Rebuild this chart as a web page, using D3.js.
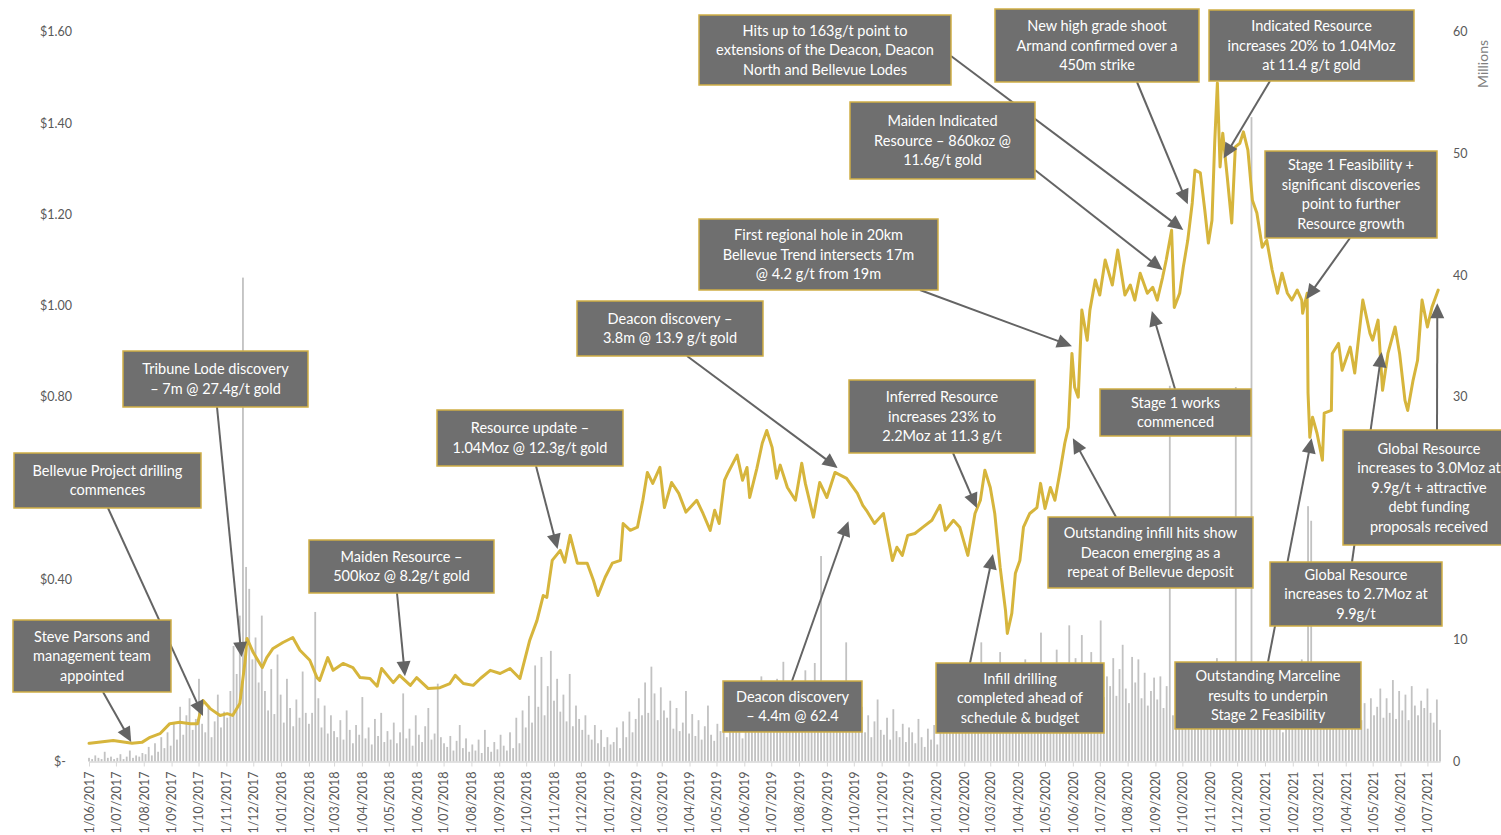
<!DOCTYPE html>
<html><head><meta charset="utf-8">
<script src="https://cdn.jsdelivr.net/npm/d3@7"></script>
<style>body{margin:0;background:#fff}svg{display:block;font-family:Lato,"Open Sans",sans-serif}</style>
</head><body><svg id="c" width="1501" height="835"></svg>
<script>
// ---------------- DATA ----------------
const startDate = "2017-06-01";
const endDate = "2021-07-15";
// share price (A$): day offset from startDate, and price
const priceDays = [
0,1,27,48,59,68,79,90,101,113,121,127,135,146,154,160,168,174,176,183,193,198,205,216,227,235,246,254,257,266,
272,283,294,302,313,321,326,339,346,358,365,378,391,402,408,417,428,436,447,458,469,480,486,491,499,506,510,516,525,530,
536,544,555,562,567,575,583,592,595,603,611,617,622,628,636,641,649,657,665,677,684,692,697,702,708,712,722,728,733,736,
744,750,755,761,766,770,778,787,794,798,807,814,822,831,844,856,862,866,875,885,895,900,906,912,920,929,939,948,954,963,
970,979,987,993,998,1004,1009,1015,1021,1023,1028,1032,1037,1041,1048,1056,1060,1065,1071,1076,1082,1087,1091,1095,1098,1102,1106,1112,1115,1121,
1126,1132,1140,1146,1154,1160,1165,1171,1179,1185,1190,1196,1200,1206,1209,1215,1219,1224,1229,1232,1238,1243,1247,1251,1254,1257,1260,1263,1268,1273,
1277,1282,1286,1291,1296,1301,1307,1312,1318,1324,1329,1335,1340,1346,1351,1352,1357,1358,1360,1363,1368,1374,1376,1384,1385,1392,1396,1405,1410,1419,
1427,1430,1436,1441,1447,1455,1460,1466,1469,1475,1480,1485,1491,1496,1503
];
const prices = [
0.040,0.040,0.046,0.040,0.042,0.053,0.061,0.083,0.086,0.083,0.083,0.134,0.116,0.101,0.105,0.101,0.127,0.222,0.270,0.239,0.206,0.228,0.248,0.261,0.272,0.244,0.222,0.184,0.178,0.228,
0.200,0.215,0.206,0.184,0.182,0.165,0.204,0.173,0.189,0.167,0.184,0.160,0.162,0.171,0.189,0.171,0.167,0.182,0.200,0.193,0.204,0.182,0.228,0.266,0.309,0.364,0.360,0.441,0.463,0.437,
0.496,0.435,0.435,0.397,0.364,0.404,0.435,0.441,0.522,0.507,0.514,0.573,0.634,0.610,0.645,0.557,0.612,0.588,0.547,0.573,0.544,0.507,0.551,0.522,0.617,0.634,0.672,0.617,0.645,0.579,
0.643,0.698,0.726,0.689,0.621,0.650,0.601,0.573,0.654,0.610,0.536,0.612,0.579,0.634,0.621,0.588,0.562,0.551,0.522,0.544,0.441,0.470,0.452,0.496,0.500,0.514,0.529,0.562,0.507,0.529,
0.514,0.452,0.544,0.573,0.639,0.601,0.544,0.426,0.331,0.281,0.325,0.413,0.441,0.514,0.544,0.557,0.610,0.555,0.601,0.573,0.639,0.698,0.733,0.895,0.821,0.799,0.990,0.924,0.990,1.056,
1.023,1.100,1.045,1.122,1.023,1.045,1.012,1.071,1.027,1.040,1.012,1.062,1.100,1.165,0.996,1.027,1.084,1.143,1.225,1.297,1.291,1.209,1.137,1.187,1.356,1.488,1.304,1.378,1.282,1.181,
1.348,1.356,1.381,1.341,1.231,1.203,1.128,1.143,1.078,1.027,1.071,1.027,1.012,1.034,1.012,0.983,1.027,0.808,0.711,0.755,0.720,0.661,0.764,0.770,0.895,0.917,0.858,0.909,0.852,1.012,
0.939,0.924,0.968,0.814,0.895,0.953,0.895,0.792,0.770,0.836,0.880,1.012,0.953,0.996,1.034
];
const volumeStepDays = 3.5;         // half-weekly volume (millions of shares)
const volumesM = [
0.3,0.2,0.5,0.3,0.2,0.8,0.3,0.4,0.2,0.3,
0.6,0.2,0.4,0.9,0.3,0.5,0.4,0.7,0.6,1.2,
0.5,1.5,0.8,2.0,1.1,2.4,1.3,3.2,1.8,4.5,
2.2,3.8,5.2,2.6,3.5,6.8,3.1,2.4,4.6,2.0,
3.3,5.5,2.8,4.1,3.6,5.8,9.5,7.2,12.0,39.8,
16.0,14.2,8.4,10.2,6.5,12.0,5.8,4.2,7.6,3.9,
8.8,5.5,3.2,6.8,4.4,2.9,5.1,3.6,7.4,4.0,
3.1,4.0,12.3,5.2,2.8,4.6,2.3,3.8,2.5,2.0,
3.4,1.8,4.2,2.6,1.5,3.0,2.2,5.3,1.9,2.8,
1.4,3.5,2.1,4.0,1.6,2.5,1.8,3.2,1.5,2.4,
5.6,1.9,2.7,1.3,3.8,2.2,1.6,2.9,4.4,1.8,
2.3,6.4,2.0,1.5,1.2,2.1,0.9,1.7,3.0,1.1,
1.9,0.8,1.4,0.9,1.8,0.7,2.6,1.2,0.8,1.6,
1.0,2.2,1.3,0.9,2.4,1.1,3.6,1.5,4.2,2.8,
5.4,3.2,7.9,4.5,8.6,3.8,6.2,9.1,5.0,6.8,
4.1,5.5,3.3,7.2,2.9,4.6,3.5,2.6,3.8,2.2,
1.8,3.0,1.5,2.6,1.2,2.0,1.4,1.6,2.8,1.1,
3.3,2.0,4.1,2.4,3.5,5.2,3.8,6.5,4.0,7.8,
5.6,3.4,6.1,4.2,3.6,5.0,2.7,4.4,2.5,3.2,
5.8,2.3,3.9,2.1,3.4,1.8,2.9,4.6,2.2,1.7,
3.1,2.5,4.8,2.0,3.6,6.2,2.8,3.3,1.9,4.0,
3.4,5.5,2.6,4.2,7.0,3.1,4.5,2.7,5.1,6.8,
4.0,8.2,5.3,3.6,6.4,4.8,3.2,5.8,7.5,4.4,
6.6,8.1,5.2,16.9,4.0,6.0,4.6,3.2,5.0,3.5,
4.8,9.8,2.9,6.3,3.8,3.0,4.5,2.4,3.8,2.0,
3.3,5.1,2.6,2.2,3.6,1.8,4.3,2.5,2.0,3.1,
1.6,2.8,2.4,1.5,3.5,2.0,1.2,2.7,1.8,3.0,
1.4,2.6,4.2,3.0,5.5,3.6,2.4,4.8,3.2,6.0,
4.5,7.2,3.8,5.6,9.8,4.2,6.6,5.0,7.5,5.2,
9.0,6.0,4.4,7.8,5.5,3.8,6.2,5.0,8.4,6.2,
4.6,7.0,5.4,10.6,6.5,4.8,7.6,5.5,9.2,6.8,
4.9,8.0,11.2,6.1,8.5,6.3,10.4,7.2,5.6,9.0,
6.7,8.1,11.6,5.3,7.0,6.2,8.5,5.4,7.6,9.6,
6.0,4.8,8.6,6.5,8.4,5.2,7.3,4.6,5.8,6.9,
5.1,7.0,4.4,6.2,30.9,3.8,5.6,4.2,6.0,7.2,
5.0,6.6,4.3,5.8,3.9,6.4,4.6,5.4,6.8,8.5,
5.6,7.4,4.8,6.2,5.1,30.8,6.4,4.5,5.8,3.6,
53.0,5.0,3.2,4.4,2.8,3.8,2.6,4.5,3.1,5.2,
2.4,3.6,4.8,3.0,5.5,6.2,8.4,4.5,21.0,19.8,
5.8,3.9,5.0,3.6,6.2,4.0,3.2,5.4,2.8,4.6,
3.5,2.6,4.2,3.0,5.6,3.4,4.8,2.7,5.2,3.8,
4.5,6.0,3.6,5.2,4.0,6.7,3.5,5.8,4.2,5.5,
3.4,6.2,4.6,3.8,5.0,4.4,6.0,4.0,3.2,5.1,
2.6
];
// axis ticks that are visible in the reference (others are covered by call-out boxes)
const priceTicks = [0,0.4,0.8,1.0,1.2,1.4,1.6];
const priceTickLabels = ["$-","$0.40","$0.80","$1.00","$1.20","$1.40","$1.60"];
const volumeTicks = [0,10,30,40,50,60];
const volumeAxisTitle = "Millions";

// annotation content: text, and the (date, price) the arrow points at
const annotationTexts = [
 ["Steve Parsons and","management team","appointed"],
 ["Bellevue Project drilling","commences"],
 ["Tribune Lode discovery","– 7m @ 27.4g/t gold"],
 ["Maiden Resource –","500koz @ 8.2g/t gold"],
 ["Resource update –","1.04Moz @ 12.3g/t gold"],
 ["Deacon discovery –","3.8m @ 13.9 g/t gold"],
 ["Deacon discovery","– 4.4m @ 62.4"],
 ["First regional hole in 20km","Bellevue Trend intersects 17m","@ 4.2 g/t from 19m"],
 ["Hits up to 163g/t point to","extensions of the Deacon, Deacon","North and Bellevue Lodes"],
 ["New high grade shoot","Armand confirmed over a","450m strike"],
 ["Indicated Resource","increases 20% to 1.04Moz","at 11.4 g/t gold"],
 ["Maiden Indicated","Resource – 860koz @","11.6g/t gold"],
 ["Stage 1 Feasibility +","significant discoveries","point to further","Resource growth"],
 ["Stage 1 works","commenced"],
 ["Inferred Resource","increases 23% to","2.2Moz at 11.3 g/t"],
 ["Outstanding infill hits show","Deacon emerging as a","repeat of Bellevue deposit"],
 ["Infill drilling","completed ahead of","schedule & budget"],
 ["Outstanding Marceline","results to underpin","Stage 2 Feasibility"],
 ["Global Resource","increases to 2.7Moz at","9.9g/t"],
 ["Global Resource","increases to 3.0Moz at","9.9g/t + attractive","debt funding","proposals received"]
];
const annotationDates = ["2017-07-18","2017-10-06","2017-11-18","2018-05-19","2018-11-05","2019-09-13","2019-09-25",
 "2020-05-31","2020-10-02","2020-10-07","2020-11-16","2020-09-09","2021-02-16","2020-08-28","2020-02-15",
 "2020-06-01","2020-03-04","2021-02-22","2021-05-11","2021-07-12"];
const annotationPrices = [0.043,0.100,0.229,0.187,0.466,0.644,0.527,0.911,1.166,1.222,1.323,1.078,1.014,0.988,0.556,
 0.709,0.455,0.709,0.898,1.005];

// ---------------- LAYOUT (pixels) ----------------
const boxLayout = [
 {b:[13,620,171,692], f:[103,692]},
 {b:[14,453,201,508], f:[108,508]},
 {b:[123,351,308,407], f:[217,407]},
 {b:[309,540,494,593], f:[397,593]},
 {b:[437,410,623,466], f:[536,466]},
 {b:[577,301,763,356], f:[687,356]},
 {b:[723,681,862,732], f:[792,681]},
 {b:[699,219,938,290], f:[920,290]},
 {b:[699,15,951,85],  f:[951,56]},
 {b:[995,9,1199,82],  f:[1137,82]},
 {b:[1209,10,1414,81], f:[1270,81]},
 {b:[850,102,1035,179], f:[1035,170]},
 {b:[1265,151,1437,238], f:[1350,238]},
 {b:[1100,389,1251,436], f:[1175,389]},
 {b:[849,380,1035,453], f:[953,453]},
 {b:[1048,517,1253,588], f:[1116,517]},
 {b:[936,663,1104,733], f:[970,663]},
 {b:[1175,662,1361,729], f:[1268,662]},
 {b:[1270,562,1442,626], f:[1352,562]},
 {b:[1343,430,1515,545], f:[1437,430]}
];

// ---------------- DRAW ----------------
const svg = d3.select("#c");
svg.append("rect").attr("width",1501).attr("height",835).attr("fill","#fff");
const parse = d3.utcParse("%Y-%m-%d");
const t0 = parse(startDate), t1 = parse(endDate);
const DAY = 864e5;
const x = d3.scaleUtc().domain([t0,t1]).range([89,1440]);
const yP = d3.scaleLinear().domain([0,1.6]).range([761.5,32]);
const yV = d3.scaleLinear().domain([0,60]).range([761.5,32]);

const priceData = prices.map((v,i)=>({d:new Date(t0.getTime()+priceDays[i]*DAY), v}));
const volData = volumesM.map((v,i)=>({d:new Date(t0.getTime()+i*volumeStepDays*DAY), v}));

const axisCol = "#595959";

// volume bars
svg.append("g").selectAll("rect").data(volData).join("rect")
  .attr("x", d=>x(d.d)-0.9).attr("width",1.8)
  .attr("y", d=>yV(d.v)).attr("height", d=>yV(0)-yV(d.v))
  .attr("fill","#c2c2c2");

// x axis
const xAxis = d3.axisBottom(x).ticks(d3.utcMonth.every(1)).tickFormat(d3.utcFormat("%-d/%m/%Y"))
  .tickSize(5).tickSizeOuter(0);
const gx = svg.append("g").attr("transform","translate(0,761.5)").call(xAxis);
gx.select(".domain").attr("stroke","#d9d9d9").attr("stroke-width",1.5);
gx.selectAll(".tick line").attr("stroke","#d9d9d9");
gx.selectAll(".tick text").attr("transform","rotate(-90)").attr("text-anchor","end")
  .attr("x",-10).attr("y",0).attr("dy","0.35em")
  .attr("fill",axisCol).style("font-size","12.5px").style("font-family","Lato, sans-serif");

// left axis labels
svg.append("g").selectAll("text").data(priceTicks).join("text")
  .attr("x", d=> d===0 ? 66 : 72).attr("y", d=>yP(d)).attr("dy","0.35em")
  .attr("text-anchor","end").attr("fill",axisCol).style("font-size","12.5px")
  .text((d,i)=>priceTickLabels[i]);
// right axis labels
svg.append("g").selectAll("text").data(volumeTicks).join("text")
  .attr("x",1453).attr("y", d=>yV(d)).attr("dy","0.35em")
  .attr("text-anchor","start").attr("fill",axisCol).style("font-size","12.5px")
  .text(d=>d);
svg.append("text").attr("transform","translate(1488,64) rotate(-90)")
  .attr("text-anchor","middle").attr("fill","#7f7f7f").style("font-size","14px").text(volumeAxisTitle);

// price line
svg.append("path").datum(priceData)
  .attr("d", d3.line().x(d=>x(d.d)).y(d=>yP(d.v)))
  .attr("fill","none").attr("stroke","#d6b53c").attr("stroke-width",3)
  .attr("stroke-linejoin","round").attr("stroke-linecap","round");

// arrows
const gA = svg.append("g");
annotationTexts.forEach((t,i)=>{
  const L = boxLayout[i];
  const tx = x(parse(annotationDates[i])), ty = yP(annotationPrices[i]);
  const fx = L.f[0], fy = L.f[1];
  const dx = tx-fx, dy = ty-fy, len = Math.hypot(dx,dy);
  const ux = dx/len, uy = dy/len, px = -uy, py = ux;
  const H = 15, W = 7;
  const bx = tx-ux*H, by = ty-uy*H;
  gA.append("line").attr("x1",fx).attr("y1",fy).attr("x2",bx+ux*2).attr("y2",by+uy*2)
    .attr("stroke","#646464").attr("stroke-width",2);
  gA.append("path").attr("d",`M${tx},${ty}L${bx+px*W},${by+py*W}L${bx-px*W},${by-py*W}Z`)
    .attr("fill","#646464");
});

// boxes
const gB = svg.append("g");
annotationTexts.forEach((lines,i)=>{
  const [x1,y1,x2,y2] = boxLayout[i].b;
  gB.append("rect").attr("x",x1).attr("y",y1).attr("width",x2-x1).attr("height",y2-y1)
    .attr("fill","#6f6f6f").attr("stroke","#cfae45").attr("stroke-width",1.5);
  const cx = (x1+x2)/2, cy = (y1+y2)/2, lh = 19.5;
  lines.forEach((s,j)=>{
    gB.append("text").attr("x",cx).attr("y",cy+(j-(lines.length-1)/2)*lh).attr("dy","0.35em")
      .attr("text-anchor","middle").attr("fill","#fff").style("font-size","14.5px").text(s);
  });
});
</script></body></html>
